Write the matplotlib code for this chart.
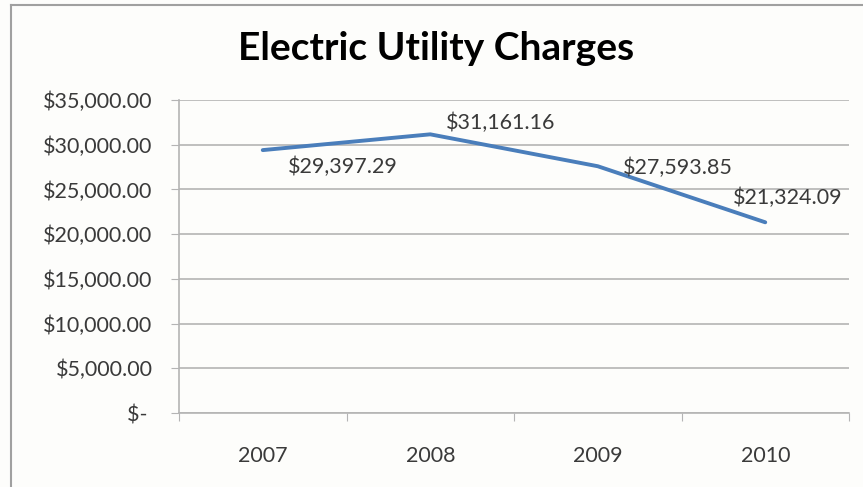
import numpy as np
import matplotlib
matplotlib.use("Agg")
from matplotlib import pyplot as plt

years = ["2007", "2008", "2009", "2010"]
charges = [29397.29, 31161.16, 27593.85, 21324.09]
label_offsets = [(25, -17), (16, 11), (25, -2), (-32, 24)]  # pixels

plt.rcParams['font.family'] = ['Lato', 'DejaVu Sans']

bg = "#fdfdfb"
grid_c = "#b4b4b4"
txt_c = "#3a3a3a"

fig = plt.figure(figsize=(8.63, 4.87), dpi=100, facecolor=bg)
ax = fig.add_axes([179/863, 1-413/487, (849-179)/863, (413-100)/487])
ax.set_facecolor(bg)

x = np.arange(len(years)) + 0.5
ax.plot(x, charges, color="#4a7ebb", lw=2.8, solid_capstyle="round", zorder=3)

for xi, v, off in zip(x, charges, label_offsets):
    ax.annotate("${:,.2f}".format(v), (xi, v), xytext=off, textcoords="offset pixels",
                ha="left", va="center", fontsize=15.5, color=txt_c)

ax.set_xlim(0, len(years))
ax.set_ylim(0, 35000)
ax.set_yticks(np.arange(0, 35001, 5000))
ax.set_yticklabels(["$- "] + ["${:,.2f}".format(t) for t in range(5000, 35001, 5000)])
ax.set_xticks(np.arange(len(years) + 1))
ax.set_xticklabels([])
ax.set_xticks(x, minor=True)
ax.set_xticklabels(years, minor=True)
ax.tick_params(axis="x", which="minor", length=0, pad=24, labelsize=15.5, labelcolor=txt_c)
ax.tick_params(axis="x", which="major", length=6, color=grid_c, direction="out")
ax.tick_params(axis="y", length=6, color=grid_c, labelsize=15.5, labelcolor=txt_c, pad=13)

ax.yaxis.grid(True, color=grid_c, lw=1.2)
ax.set_axisbelow(True)
for s in ["top", "right"]:
    ax.spines[s].set_visible(False)
for s in ["left", "bottom"]:
    ax.spines[s].set_color(grid_c)
    ax.spines[s].set_linewidth(1.2)

fig.text(436/863, 1-48/487, "Electric Utility Charges", ha="center", va="center",
         fontsize=28, fontweight="bold", color="black")

# outer chart border (left and top edges visible)
fig.add_artist(plt.Line2D([11/863, 11/863], [0, 1-5/487], transform=fig.transFigure, color="#a0a0a0", lw=1.5))
fig.add_artist(plt.Line2D([11/863, 1], [1-5/487, 1-5/487], transform=fig.transFigure, color="#a0a0a0", lw=1.5))

fig.savefig("out.png", dpi=100, facecolor=bg)
